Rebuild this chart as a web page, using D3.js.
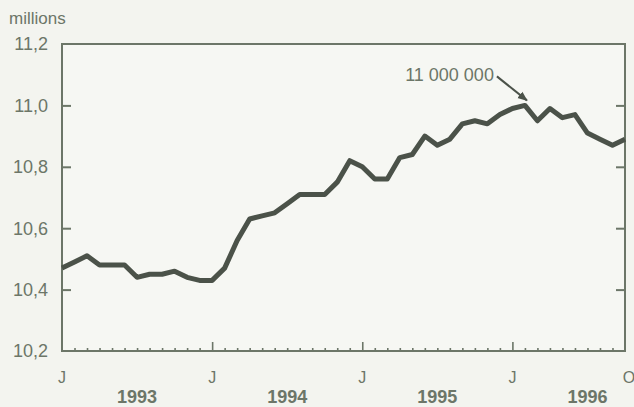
<!DOCTYPE html>
<html>
<head>
<meta charset="utf-8">
<script src="https://cdn.jsdelivr.net/npm/d3@7"></script>
<style>
  body { margin: 0; background: #f3f4ef; }
  svg { display: block; font-family: "Liberation Sans", Arial, sans-serif; }
</style>
</head>
<body>
<div id="chart"></div>
<script>
// monthly values, Jan 1993 .. Oct 1996 (millions)
const employment = [
  10.47, 10.49, 10.51, 10.48, 10.48, 10.48, 10.44, 10.45, 10.45, 10.46, 10.44, 10.43,
  10.43, 10.47, 10.56, 10.63, 10.64, 10.65, 10.68, 10.71, 10.71, 10.71, 10.75, 10.82,
  10.80, 10.76, 10.76, 10.83, 10.84, 10.90, 10.87, 10.89, 10.94, 10.95, 10.94, 10.97,
  10.99, 11.00, 10.95, 10.99, 10.96, 10.97, 10.91, 10.89, 10.87, 10.89
];
const yTicks = [10.2, 10.4, 10.6, 10.8, 11.0, 11.2];
const monthTicks = [0, 12, 24, 36, 45];
const monthLabels = ["J", "J", "J", "J", "O"];
const years = ["1993", "1994", "1995", "1996"];
const peakIndex = 37;
const peakLabel = "11 000 000";

const width = 634, height = 407;
const margin = { top: 44, right: 9, bottom: 56, left: 62 };
const ink = "#6c7668", lineInk = "#4b5249";

const svg = d3.select("#chart").append("svg")
  .attr("width", width)
  .attr("height", height);

const x = d3.scaleLinear()
  .domain([0, employment.length - 1])
  .range([margin.left, width - margin.right]);

const y = d3.scaleLinear()
  .domain([10.2, 11.2])
  .range([height - margin.bottom, margin.top]);

// frame
svg.append("rect")
  .attr("x", x(0)).attr("y", y(11.2))
  .attr("width", x(45) - x(0)).attr("height", y(10.2) - y(11.2))
  .attr("fill", "#f6f7f3")
  .attr("stroke", ink).attr("stroke-width", 2);

// left axis
const yAxis = svg.append("g")
  .attr("transform", `translate(${x(0)},0)`)
  .call(d3.axisRight(y).tickValues(yTicks.slice(1, -1)).tickSize(9).tickFormat(""));
yAxis.select(".domain").remove();
yAxis.selectAll("line").attr("stroke", ink).attr("stroke-width", 2);

// right axis
const yAxisR = svg.append("g")
  .attr("transform", `translate(${x(45)},0)`)
  .call(d3.axisLeft(y).tickValues(yTicks.slice(1, -1)).tickSize(9).tickFormat(""));
yAxisR.select(".domain").remove();
yAxisR.selectAll("line").attr("stroke", ink).attr("stroke-width", 2);

// y labels
svg.append("g").selectAll("text")
  .data(yTicks)
  .join("text")
  .attr("x", 48)
  .attr("y", d => y(d))
  .attr("dy", "0.36em")
  .attr("text-anchor", "end")
  .attr("font-size", 18)
  .attr("fill", ink)
  .text(d => d3.format(".1f")(d).replace(".", ","));

svg.append("text")
  .attr("x", 9).attr("y", 24)
  .attr("font-size", 17)
  .attr("fill", ink)
  .text("millions");

// bottom month ticks
const xAxis = svg.append("g")
  .attr("transform", `translate(0,${y(10.2)})`)
  .call(d3.axisTop(x).tickValues(d3.range(1, 45)).tickSize(3).tickFormat(""));
xAxis.select(".domain").remove();
xAxis.selectAll("line").attr("stroke", ink).attr("stroke-width", 1.6)
  .filter(d => d % 12 === 0).attr("y2", -9);

svg.append("g").selectAll("text")
  .data(monthTicks)
  .join("text")
  .attr("x", (d, i) => x(d) + (i === monthTicks.length - 1 ? 4 : 0))
  .attr("y", 383)
  .attr("text-anchor", "middle")
  .attr("font-size", 16)
  .attr("fill", ink)
  .text((d, i) => monthLabels[i]);

svg.append("g").selectAll("text")
  .data(years)
  .join("text")
  .attr("x", (d, i) => x(i * 12 + 6))
  .attr("y", 403)
  .attr("text-anchor", "middle")
  .attr("font-size", 18)
  .attr("font-weight", "bold")
  .attr("fill", ink)
  .text(d => d);

// series
const line = d3.line()
  .x((d, i) => x(i))
  .y(d => y(d));

svg.append("path")
  .datum(employment)
  .attr("d", line)
  .attr("fill", "none")
  .attr("stroke", lineInk)
  .attr("stroke-width", 5)
  .attr("stroke-linejoin", "round");

// annotation
const px = x(peakIndex), py = y(employment[peakIndex]);
svg.append("defs").append("marker")
  .attr("id", "arrow")
  .attr("viewBox", "0 0 10 10")
  .attr("refX", 9).attr("refY", 5)
  .attr("markerWidth", 5).attr("markerHeight", 5)
  .attr("orient", "auto")
  .append("path")
  .attr("d", "M0,1L10,5L0,9Z")
  .attr("fill", lineInk);

svg.append("line")
  .attr("x1", px - 28).attr("y1", py - 29)
  .attr("x2", px + 2).attr("y2", py - 5)
  .attr("stroke", lineInk)
  .attr("stroke-width", 2)
  .attr("marker-end", "url(#arrow)");

svg.append("text")
  .attr("x", px - 31).attr("y", py - 24)
  .attr("text-anchor", "end")
  .attr("font-size", 18)
  .attr("fill", ink)
  .text(peakLabel);
</script>
</body>
</html>
